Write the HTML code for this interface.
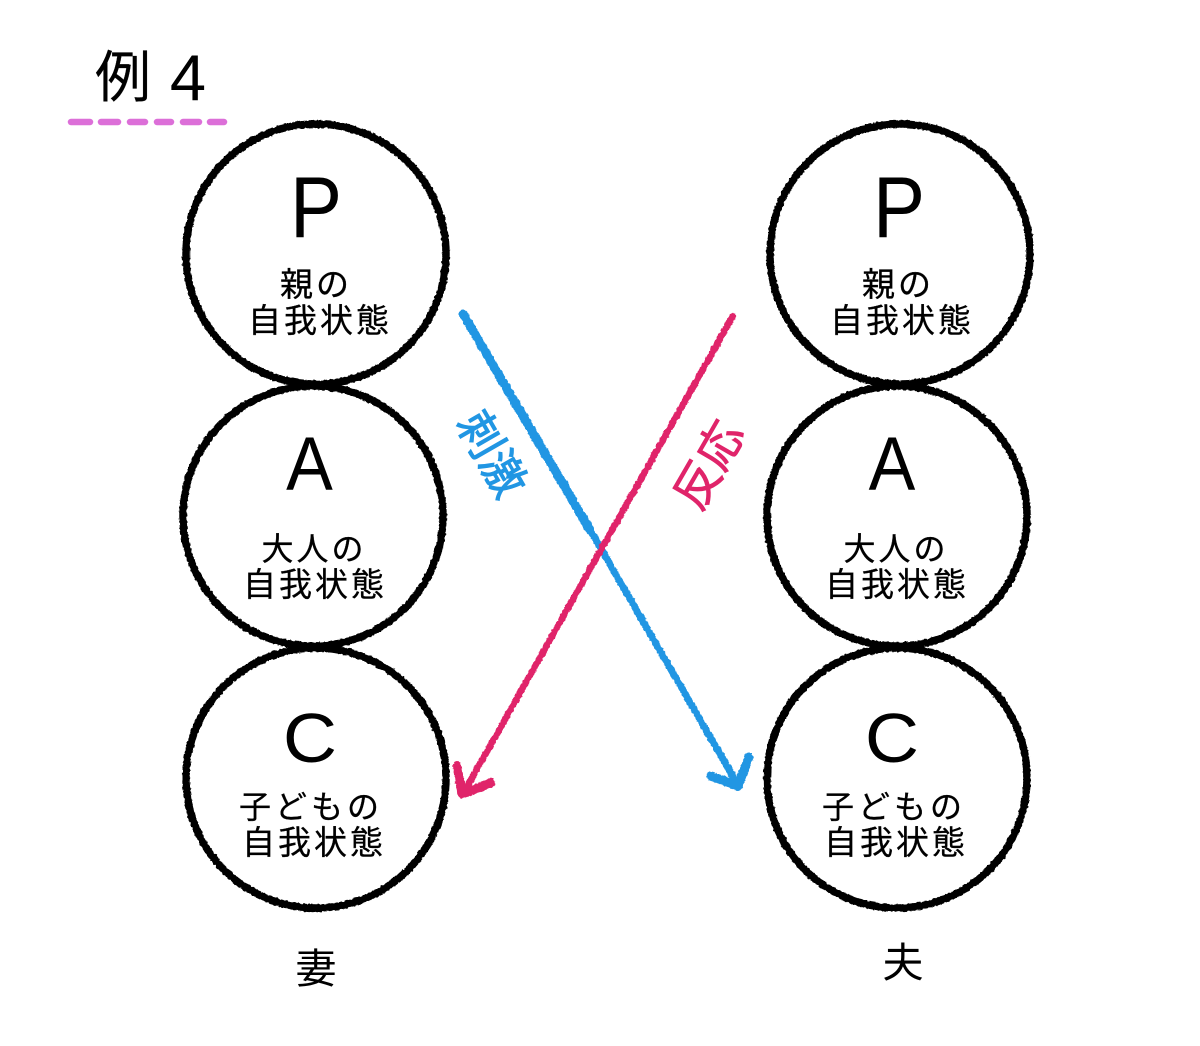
<!DOCTYPE html>
<html><head><meta charset="utf-8"><style>
html,body{margin:0;padding:0;background:#fff}
svg{display:block}
text{font-family:"Liberation Sans","Noto Sans CJK JP",sans-serif;fill:#000;text-anchor:middle}
.s{font-size:33px;letter-spacing:3px;stroke:#000;stroke-width:.3px}
.l{font-size:100px}
</style></head><body>
<svg width="1200" height="1046" viewBox="0 0 1200 1046" xmlns="http://www.w3.org/2000/svg">
<defs>
<filter id="r" filterUnits="userSpaceOnUse" x="0" y="0" width="1200" height="1046" color-interpolation-filters="sRGB">
<feTurbulence type="fractalNoise" baseFrequency="0.3" numOctaves="2" seed="4" result="n"/>
<feDisplacementMap in="SourceGraphic" in2="n" scale="3" xChannelSelector="R" yChannelSelector="G"/>
<feGaussianBlur stdDeviation="0.3"/>
</filter>
</defs>
<rect width="1200" height="1046" fill="#fff"/>
<text x="123" y="97" style="font-size:56px;stroke:#000;stroke-width:.2px">例</text>
<text x="188" y="100" style="font-size:65px">4</text>
<g stroke="#dc6fd8" stroke-width="6.5" stroke-linecap="round" fill="none">
<line x1="71" y1="122" x2="90" y2="122"/><line x1="101" y1="122" x2="118" y2="122"/><line x1="130" y1="122" x2="145" y2="122"/><line x1="157" y1="122" x2="171" y2="122"/><line x1="183" y1="122" x2="199" y2="122"/><line x1="210" y1="122" x2="224" y2="122"/>
</g>
<g fill="none" stroke="#000" stroke-width="7.5" filter="url(#r)">
<circle cx="316" cy="254" r="130"/><circle cx="313" cy="516" r="130"/><circle cx="316" cy="778" r="130"/>
<circle cx="900" cy="254" r="130"/><circle cx="897" cy="516" r="130"/><circle cx="897" cy="778" r="130"/>
</g>
<text class="l" transform="translate(316 237) scale(.78 .86)">P</text>
<text class="l" transform="translate(899 237) scale(.78 .86)">P</text>
<text class="l" transform="translate(309.500 490) scale(.7 .76)">A</text>
<text class="l" transform="translate(892 490) scale(.7 .76)">A</text>
<text class="l" transform="translate(310 762) scale(.75 .7)">C</text>
<text class="l" transform="translate(892 762) scale(.75 .7)">C</text>
<text class="s" x="316" y="296">親の</text><text class="s" x="320" y="332">自我状態</text>
<text class="s" x="898" y="296">親の</text><text class="s" x="902" y="332">自我状態</text>
<text class="s" x="314" y="560" style="font-size:32px">大人の</text><text class="s" x="315" y="596">自我状態</text>
<text class="s" x="896" y="560" style="font-size:32px">大人の</text><text class="s" x="897" y="596">自我状態</text>
<text class="s" x="311" y="818" style="font-size:32px;letter-spacing:4px">子どもの</text><text class="s" x="314" y="854">自我状態</text>
<text class="s" x="894" y="818" style="font-size:32px;letter-spacing:4px">子どもの</text><text class="s" x="896" y="854">自我状態</text>
<text x="316" y="983" style="font-size:41px">妻</text>
<text x="903" y="977" style="font-size:41px">夫</text>
<g fill="none" stroke="#2196e3" stroke-linecap="round" stroke-linejoin="round" filter="url(#r)">
<path d="M463 314L590 530" stroke-width="9"/><path d="M590 530L738 785" stroke-width="7"/>
<path d="M749 757L738 786L711 776" stroke-width="9"/>
</g>
<g fill="none" stroke="#e0246a" stroke-linecap="round" stroke-linejoin="round" filter="url(#r)">
<line x1="733" y1="316" x2="464" y2="792" stroke-width="6.500"/>
<path d="M457 766L462 794L491 783" stroke-width="9"/>
</g>
<text transform="translate(492 454) rotate(60)" y="16" style="font-size:45px;stroke:#2196e3;stroke-width:1px;fill:#2196e3">刺激</text>
<text transform="translate(709 465) rotate(-60)" y="16" style="font-size:46px;stroke:#e0246a;stroke-width:.9px;fill:#e0246a">反応</text>
</svg>
</body></html>
